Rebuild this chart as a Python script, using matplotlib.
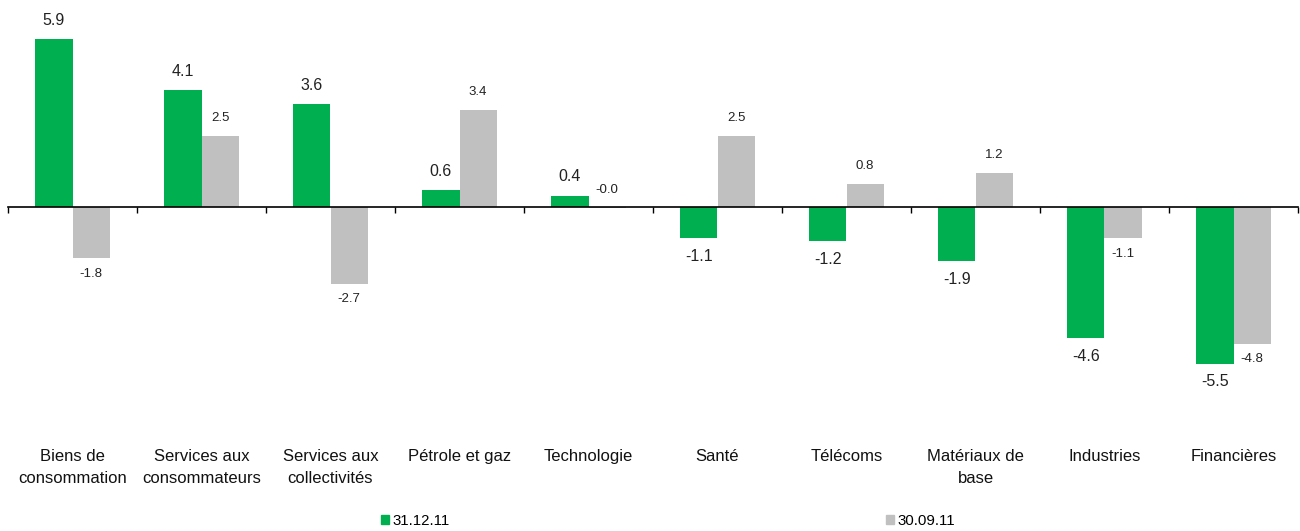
import matplotlib
matplotlib.use("Agg")
import matplotlib.pyplot as plt
import matplotlib.transforms as mtransforms
from matplotlib.patches import Patch
import numpy as np

plt.rcParams["font.family"] = ["Liberation Sans", "DejaVu Sans"]

CATEGORIES = [
    "Biens de\nconsommation",
    "Services aux\nconsommateurs",
    "Services aux\ncollectivités",
    "Pétrole et gaz",
    "Technologie",
    "Santé",
    "Télécoms",
    "Matériaux de\nbase",
    "Industries",
    "Financières",
]
SERIES_NAMES = ["31.12.11", "30.09.11"]
VALUES_DEC = [5.9, 4.1, 3.6, 0.6, 0.4, -1.1, -1.2, -1.9, -4.6, -5.5]
VALUES_SEP = [-1.8, 2.5, -2.7, 3.4, -0.02, 2.5, 0.8, 1.2, -1.1, -4.8]

GREEN = "#00B050"
GRAY = "#C0C0C0"

W, H = 1300, 531
fig = plt.figure(figsize=(W / 100, H / 100), dpi=100)

# axes pixel box: x 8..1298, y 10..400 (from top)
ax = fig.add_axes([8 / W, 1 - 400 / H, 1290 / W, 390 / H])
px_per_unit = 28.5
ax.set_ylim(-(400 - 207) / px_per_unit, (207 - 10) / px_per_unit)
ax.set_xlim(-0.5, len(CATEGORIES) - 0.5)

x = np.arange(len(CATEGORIES))
bw = 0.287
ax.bar(x - bw / 2, VALUES_DEC, bw, color=GREEN, label=SERIES_NAMES[0])
ax.bar(x + bw / 2, VALUES_SEP, bw, color=GRAY, label=SERIES_NAMES[1])

for spine in ["top", "right", "left"]:
    ax.spines[spine].set_visible(False)
ax.spines["bottom"].set_position(("data", 0))
ax.spines["bottom"].set_linewidth(1.2)
ax.set_yticks([])
ax.set_xticks(np.arange(len(CATEGORIES) + 1) - 0.5)
ax.tick_params(axis="x", direction="out", length=4, width=1, labelbottom=False)

# value labels
for xi, v in zip(x, VALUES_DEC):
    off = 13.5 if v >= 0 else -13
    ax.annotate(f"{v:.1f}", (xi - bw / 2, v), xytext=(0, off),
                textcoords="offset points", ha="center", va="center",
                fontsize=11.5, color="#222222")
for xi, v in zip(x, VALUES_SEP):
    up = v >= 0 or abs(v) < 0.05
    off = 13 if up else -11
    ax.annotate(f"{v:.1f}", (xi + bw / 2, v), xytext=(0, off),
                textcoords="offset points", ha="center", va="center",
                fontsize=9.5, color="#222222")

# category labels below
trans = mtransforms.blended_transform_factory(ax.transData, fig.transFigure)
for xi, lab in zip(x, CATEGORIES):
    ax.text(xi, 1 - 449 / H, lab, transform=trans, ha="center", va="top",
            fontsize=12, linespacing=1.55, color="#111111")

handles = [Patch(color=GREEN), Patch(color=GRAY)]
fig.legend(handles, SERIES_NAMES, loc="center", bbox_to_anchor=(668 / W, 10 / H),
           ncol=2, frameon=False, fontsize=10.8, handlelength=0.55,
           handleheight=0.55, handletextpad=0.2, columnspacing=29.1,
           borderpad=0)

fig.savefig("out.png", dpi=100)
